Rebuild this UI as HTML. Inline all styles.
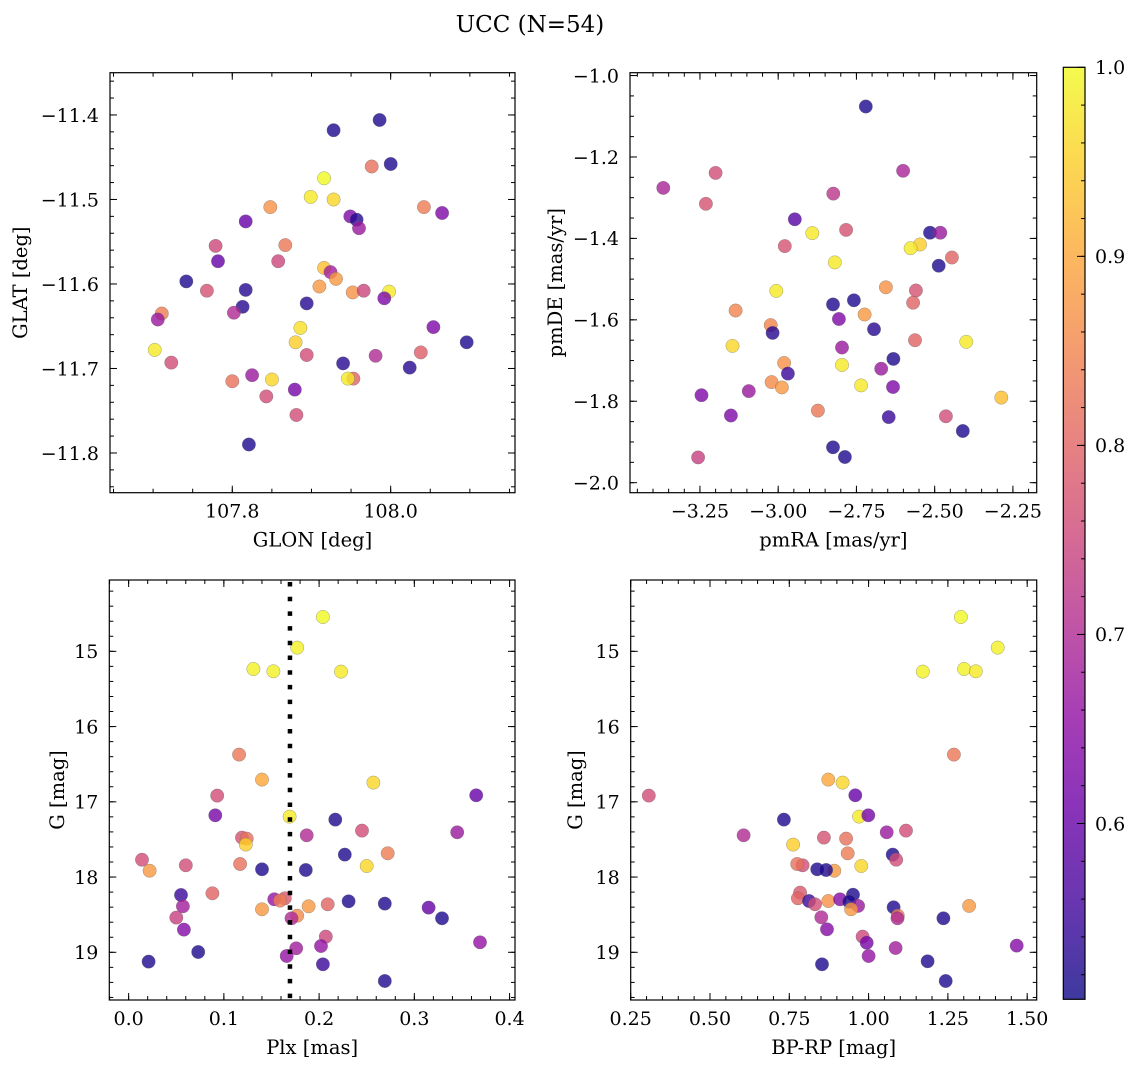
<!DOCTYPE html>
<html><head><meta charset="utf-8"><style>
html,body{margin:0;padding:0;background:#fff;}
svg{display:block;font-family:"DejaVu Serif","Liberation Serif",serif;}
</style></head><body>
<svg id="fig" width="1136" height="1067" viewBox="0 0 1136 1067" xmlns="http://www.w3.org/2000/svg">
<defs>
<linearGradient id="plasmaGrad" x1="0" y1="1" x2="0" y2="0">
<stop offset="0" stop-color="#0d0887"/><stop offset="0.1" stop-color="#41049d"/><stop offset="0.2" stop-color="#6a00a8"/><stop offset="0.3" stop-color="#8f0da4"/><stop offset="0.4" stop-color="#b12a90"/><stop offset="0.5" stop-color="#cc4778"/><stop offset="0.6" stop-color="#e16462"/><stop offset="0.7" stop-color="#f2844b"/><stop offset="0.8" stop-color="#fca636"/><stop offset="0.9" stop-color="#fcce25"/><stop offset="1" stop-color="#f0f921"/>
</linearGradient>
</defs>
<text x="530" y="32" text-anchor="middle" font-size="23">UCC (N=54)</text>
</svg>
<script>
// ---- Panel 1: GLON / GLAT ----
const glon = [107.928,107.986,108.000,107.976,107.916,107.899,107.928,107.848,108.042,108.065,107.817,107.949,107.957,107.960,107.779,107.867,107.782,107.858,107.916,107.924,107.931,107.742,107.910,107.768,107.817,107.952,107.966,107.998,107.992,107.813,107.894,107.711,107.706,107.802,107.886,108.054,107.702,107.880,108.096,107.894,108.038,107.981,107.723,107.940,108.024,107.825,107.953,107.946,107.850,107.800,107.879,107.843,107.881,107.821];
const glat = [-11.418,-11.406,-11.458,-11.461,-11.475,-11.497,-11.500,-11.509,-11.509,-11.516,-11.526,-11.520,-11.524,-11.534,-11.555,-11.554,-11.573,-11.573,-11.581,-11.586,-11.594,-11.597,-11.603,-11.608,-11.607,-11.610,-11.608,-11.609,-11.617,-11.627,-11.623,-11.635,-11.642,-11.634,-11.652,-11.651,-11.678,-11.669,-11.669,-11.684,-11.681,-11.685,-11.693,-11.694,-11.699,-11.708,-11.712,-11.712,-11.713,-11.715,-11.725,-11.733,-11.755,-11.790];
const prob1 = [0.52,0.52,0.52,0.82,1.0,0.98,0.96,0.87,0.84,0.63,0.6,0.63,0.53,0.67,0.75,0.83,0.6,0.75,0.93,0.68,0.88,0.52,0.88,0.77,0.53,0.87,0.75,0.98,0.63,0.53,0.53,0.84,0.67,0.7,0.97,0.63,0.98,0.95,0.52,0.76,0.79,0.7,0.76,0.53,0.53,0.67,0.8,0.98,0.96,0.82,0.62,0.76,0.76,0.52];
// ---- Panel 2: pmRA / pmDE ----
const pmra = [-2.720,-3.367,-3.200,-3.231,-2.601,-2.824,-2.947,-2.891,-2.783,-2.515,-2.482,-2.547,-2.577,-2.979,-2.487,-2.445,-2.819,-3.006,-2.560,-2.656,-2.825,-2.758,-2.806,-2.569,-3.136,-2.724,-2.694,-3.024,-3.018,-2.796,-2.399,-2.563,-3.146,-2.671,-2.632,-2.796,-2.981,-2.969,-2.735,-2.633,-3.021,-2.988,-3.245,-3.094,-2.287,-2.873,-3.151,-2.647,-2.464,-2.410,-2.825,-2.787,-3.256];
const pmde = [-1.076,-1.276,-1.239,-1.315,-1.234,-1.290,-1.353,-1.387,-1.379,-1.386,-1.386,-1.415,-1.424,-1.419,-1.467,-1.447,-1.459,-1.529,-1.528,-1.520,-1.562,-1.552,-1.598,-1.558,-1.577,-1.587,-1.623,-1.613,-1.632,-1.668,-1.654,-1.650,-1.664,-1.720,-1.696,-1.711,-1.706,-1.732,-1.761,-1.765,-1.753,-1.766,-1.785,-1.775,-1.791,-1.823,-1.835,-1.839,-1.837,-1.873,-1.913,-1.937,-1.938];
const prob2 = [0.52,0.69,0.76,0.77,0.69,0.72,0.58,0.98,0.77,0.52,0.67,0.95,0.98,0.77,0.52,0.8,0.98,0.98,0.77,0.87,0.52,0.52,0.63,0.8,0.85,0.88,0.53,0.85,0.53,0.67,0.98,0.8,0.96,0.67,0.52,0.98,0.87,0.55,0.98,0.63,0.86,0.88,0.63,0.67,0.93,0.83,0.63,0.55,0.76,0.52,0.52,0.52,0.74];
// ---- Panel 3: Plx / G ----
const plx = [0.204,0.177,0.131,0.152,0.223,0.116,0.140,0.257,0.093,0.365,0.169,0.091,0.217,0.187,0.245,0.345,0.119,0.124,0.123,0.227,0.272,0.014,0.060,0.117,0.250,0.022,0.140,0.186,0.055,0.088,0.153,0.164,0.159,0.231,0.057,0.140,0.189,0.209,0.269,0.315,0.329,0.050,0.177,0.171,0.058,0.207,0.369,0.202,0.176,0.073,0.166,0.021,0.204,0.269];
const gmag3 = [14.544,14.951,15.235,15.266,15.270,16.373,16.705,16.745,16.918,16.914,17.197,17.179,17.237,17.445,17.383,17.405,17.476,17.489,17.569,17.702,17.684,17.769,17.844,17.826,17.853,17.915,17.897,17.906,18.238,18.216,18.296,18.282,18.313,18.322,18.389,18.429,18.389,18.362,18.353,18.406,18.548,18.539,18.513,18.548,18.699,18.792,18.867,18.916,18.947,18.996,19.049,19.124,19.159,19.381];
const prob3 = [1.0,0.99,0.99,0.99,0.98,0.83,0.9,0.96,0.76,0.6,0.98,0.62,0.52,0.7,0.76,0.67,0.77,0.82,0.95,0.52,0.84,0.76,0.76,0.82,0.96,0.88,0.52,0.52,0.55,0.8,0.66,0.78,0.84,0.52,0.68,0.88,0.88,0.8,0.52,0.6,0.52,0.74,0.86,0.7,0.64,0.75,0.66,0.66,0.68,0.52,0.66,0.52,0.55,0.52];
const plxCut = [0.1694];
// ---- Panel 4: BP-RP / G ----
const bprp = [1.291,1.407,1.171,1.301,1.338,1.269,0.873,0.918,0.307,0.958,0.970,0.999,0.733,0.606,1.118,1.057,0.859,0.929,0.762,1.076,0.934,1.087,0.792,0.775,0.977,0.892,0.838,0.866,0.784,0.777,0.812,0.831,0.873,0.910,0.951,0.939,0.967,0.945,1.079,1.092,1.091,1.317,1.236,0.851,0.869,0.981,0.994,1.085,1.000,1.467,0.853,1.186,1.243];
const gmag4 = [14.544,14.951,15.270,15.235,15.266,16.373,16.705,16.745,16.918,16.914,17.197,17.179,17.237,17.445,17.383,17.405,17.476,17.489,17.569,17.702,17.684,17.769,17.844,17.826,17.853,17.915,17.897,17.906,18.207,18.282,18.318,18.362,18.318,18.296,18.234,18.327,18.384,18.429,18.402,18.513,18.548,18.384,18.548,18.535,18.694,18.792,18.872,18.943,19.049,18.911,19.159,19.120,19.381];
const prob4 = [1.0,0.99,0.99,0.99,0.98,0.83,0.9,0.96,0.76,0.6,0.98,0.62,0.52,0.7,0.76,0.67,0.77,0.82,0.95,0.52,0.84,0.76,0.76,0.82,0.96,0.88,0.52,0.52,0.78,0.8,0.55,0.76,0.87,0.64,0.52,0.52,0.67,0.88,0.52,0.84,0.7,0.88,0.52,0.7,0.64,0.75,0.62,0.68,0.66,0.64,0.52,0.52,0.52];
// ---- tick values / labels ----
const p1xTicks = [107.8,108.0];
const p1xLabels = ["107.8","108.0"];
const p1yTicks = [-11.4,-11.5,-11.6,-11.7,-11.8];
const p1yLabels = ["\u221211.4","\u221211.5","\u221211.6","\u221211.7","\u221211.8"];
const p2xTicks = [-3.25,-3.0,-2.75,-2.5,-2.25];
const p2xLabels = ["\u22123.25","\u22123.00","\u22122.75","\u22122.50","\u22122.25"];
const p2yTicks = [-1.0,-1.2,-1.4,-1.6,-1.8,-2.0];
const p2yLabels = ["\u22121.0","\u22121.2","\u22121.4","\u22121.6","\u22121.8","\u22122.0"];
const p3xTicks = [0.0,0.1,0.2,0.3,0.4];
const p3xLabels = ["0.0","0.1","0.2","0.3","0.4"];
const gTicks = [15,16,17,18,19];
const gLabels = ["15","16","17","18","19"];
const p4xTicks = [0.25,0.5,0.75,1.0,1.25,1.5];
const p4xLabels = ["0.25","0.50","0.75","1.00","1.25","1.50"];
const cbTicks = [0.6,0.7,0.8,0.9,1.0];
const cbLabels = ["0.6","0.7","0.8","0.9","1.0"];
const cbRange = [0.507,1.0];

const NS = "http://www.w3.org/2000/svg";
const svg = document.getElementById('fig');
function mk(tag, attrs, parent){
  const e = document.createElementNS(NS, tag);
  for (const k in attrs) e.setAttribute(k, attrs[k]);
  (parent||svg).appendChild(e);
  return e;
}
const stops = ["#0d0887","#41049d","#6a00a8","#8f0da4","#b12a90","#cc4778","#e16462","#f2844b","#fca636","#fcce25","#f0f921"];
function hex(h){return [parseInt(h.substr(1,2),16),parseInt(h.substr(3,2),16),parseInt(h.substr(5,2),16)];}
function plasma(v){
  let t = (v-cbRange[0])/(cbRange[1]-cbRange[0]);
  t = Math.max(0,Math.min(1,t))*10;
  const i = Math.min(9,Math.floor(t)), f = t-i;
  const a = hex(stops[i]), b = hex(stops[i+1]);
  return 'rgb('+a.map((c,k)=>Math.round(c+(b[k]-c)*f)).join(',')+')';
}
function range(a,b,step){const r=[];for(let v=a;v<=b+1e-9;v+=step)r.push(+v.toFixed(6));return r;}

function panel(name,cfg,xs,ys,cs){
  const g = mk('g',{});
  
  
  const sx = v => cfg.x0 + (v-cfg.xd[0])/(cfg.xd[1]-cfg.xd[0])*(cfg.x1-cfg.x0);
  const sy = v => cfg.yinv ? cfg.y0 + (v-cfg.yd[0])/(cfg.yd[1]-cfg.yd[0])*(cfg.y1-cfg.y0)
                           : cfg.y1 - (v-cfg.yd[0])/(cfg.yd[1]-cfg.yd[0])*(cfg.y1-cfg.y0);
  // points
  const pts = mk('g',{},g);
  
  
  for (let i=0;i<xs.length;i++){
    const c = mk('circle',{cx:sx(xs[i]).toFixed(1),cy:sy(ys[i]).toFixed(1),r:6.7,fill:plasma(cs[i]),'fill-opacity':0.8,stroke:'#666','stroke-width':0.5,'stroke-opacity':0.6},pts);
    
    
  }
  if (cfg.vline){
    const vl = mk('line',{x1:sx(cfg.vline),x2:sx(cfg.vline),y1:cfg.y0+2,y2:cfg.y1,stroke:'#000','stroke-width':4.5,'stroke-dasharray':'4.5 10.2'},g);
    
    
  }
  // ticks
  const tk = mk('g',{stroke:'#000','stroke-width':1},g);
  
  
  const xminor = range(cfg.xm[0],cfg.xm[1],cfg.xm[2]), yminor = range(cfg.ym[0],cfg.ym[1],cfg.ym[2]);
  function xt(v,len){const x=sx(v); if(x<cfg.x0-0.5||x>cfg.x1+0.5)return;
    mk('line',{x1:x,x2:x,y1:cfg.y1,y2:cfg.y1-len},tk); mk('line',{x1:x,x2:x,y1:cfg.y0,y2:cfg.y0+len},tk);}
  function yt(v,len){const y=sy(v); if(y<cfg.y0-0.5||y>cfg.y1+0.5)return;
    mk('line',{x1:cfg.x0,x2:cfg.x0+len,y1:y,y2:y},tk); mk('line',{x1:cfg.x1,x2:cfg.x1-len,y1:y,y2:y},tk);}
  xminor.forEach(v=>xt(v,4)); yminor.forEach(v=>yt(v,4));
  cfg.xt.forEach(v=>xt(v,7)); cfg.yt.forEach(v=>yt(v,7));
  // frame
  const fr = mk('rect',{x:cfg.x0,y:cfg.y0,width:cfg.x1-cfg.x0,height:cfg.y1-cfg.y0,fill:'none',stroke:'#000','stroke-width':1.2},g);
  
  
  // tick labels
  cfg.xt.forEach((v,i)=>{
    const t = mk('text',{x:sx(v),y:cfg.y1+25,'text-anchor':'middle','font-size':19},g);
    t.textContent = cfg.xl[i];
    
    
  });
  cfg.yt.forEach((v,i)=>{
    const t = mk('text',{x:cfg.x0-11,y:sy(v)+6.8,'text-anchor':'end','font-size':19},g);
    t.textContent = cfg.yl[i];
    
    
  });
  const xlab = mk('text',{x:(cfg.x0+cfg.x1)/2,y:cfg.y1+54,'text-anchor':'middle','font-size':19.5},g);
  xlab.textContent = cfg.xlab;
  
  
  const cy=(cfg.y0+cfg.y1)/2;
  const ylab = mk('text',{x:cfg.ylx,y:cy,'text-anchor':'middle','font-size':19.5,transform:'rotate(-90 '+cfg.ylx+' '+cy+')',dy:'0.35em'},g);
  ylab.textContent = cfg.ylab;
  
  
}

panel('glon-glat-panel',{x0:110,x1:515,y0:72.7,y1:492.7,xd:[107.6456,108.157],yd:[-11.847,-11.350],
  xt:p1xTicks,xl:p1xLabels,yt:p1yTicks,yl:p1yLabels,xm:[107.65,108.15,0.05],ym:[-11.84,-11.36,0.02],
  xlab:'GLON [deg]',ylab:'GLAT [deg]',ylx:20},glon,glat,prob1);
panel('pm-panel',{x0:630,x1:1036.7,y0:72.7,y1:492.7,xd:[-3.4735,-2.174],yd:[-2.0246,-0.993],
  xt:p2xTicks,xl:p2xLabels,yt:p2yTicks,yl:p2yLabels,xm:[-3.45,-2.2,0.05],ym:[-2.0,-1.0,0.05],
  xlab:'pmRA [mas/yr]',ylab:'pmDE [mas/yr]',ylx:555},pmra,pmde,prob2);
panel('plx-g-panel',{x0:109.3,x1:515,y0:580,y1:1000,xd:[-0.0203,0.4057],yd:[14.052,19.634],yinv:true,
  xt:p3xTicks,xl:p3xLabels,yt:gTicks,yl:gLabels,xm:[-0.02,0.4,0.02],ym:[14.2,19.6,0.2],vline:plxCut[0],
  xlab:'Plx [mas]',ylab:'G [mag]',ylx:57},plx,gmag3,prob3);
panel('cmd-panel',{x0:630.7,x1:1036.7,y0:580,y1:1000,xd:[0.25,1.53],yd:[14.052,19.634],yinv:true,
  xt:p4xTicks,xl:p4xLabels,yt:gTicks,yl:gLabels,xm:[0.25,1.5,0.05],ym:[14.2,19.6,0.2],
  xlab:'BP-RP [mag]',ylab:'G [mag]',ylx:575},bprp,gmag4,prob4);

// colorbar
const cb = mk('g',{});


const cbx0=1063.3, cbx1=1085, cby0=67.3, cby1=999.3;
const cbs = v => cby1 - (v-cbRange[0])/(cbRange[1]-cbRange[0])*(cby1-cby0);
mk('rect',{x:cbx0,y:cby0,width:cbx1-cbx0,height:cby1-cby0,fill:'url(#plasmaGrad)','fill-opacity':0.8},cb);
range(0.52,1.0,0.02).forEach(v=>{const y=cbs(v); if(y>cby0+1&&y<cby1-1) mk('line',{x1:cbx1,x2:cbx1-4,y1:y,y2:y,stroke:'#000','stroke-width':1},cb);});
cbTicks.forEach((v,i)=>{
  const y=cbs(v);
  mk('line',{x1:cbx1,x2:cbx1-8,y1:y,y2:y,stroke:'#000','stroke-width':1},cb);
  const t = mk('text',{x:cbx1+10,y:y+6.8,'font-size':19},cb);
  t.textContent = cbLabels[i];
  
  
});
mk('rect',{x:cbx0,y:cby0,width:cbx1-cbx0,height:cby1-cby0,fill:'none',stroke:'#000','stroke-width':1.2},cb);
</script>
</body></html>
